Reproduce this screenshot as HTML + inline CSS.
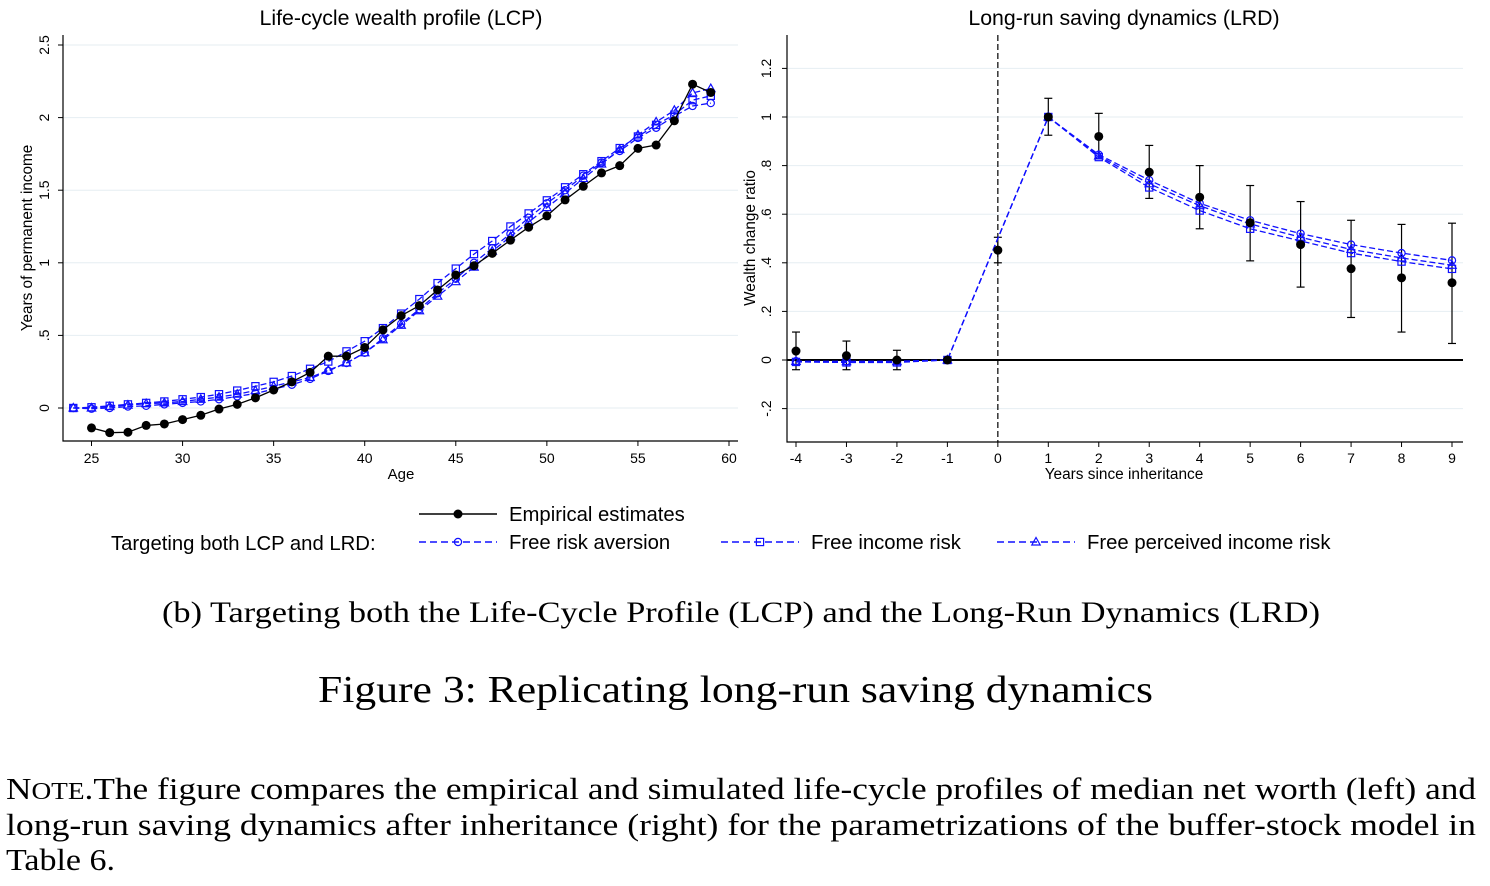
<!DOCTYPE html>
<html><head><meta charset="utf-8"><style>
body{margin:0;background:#fff;width:1490px;height:886px;overflow:hidden;position:relative;font-family:"Liberation Sans",sans-serif}
svg{position:absolute;left:0;top:0}
</style></head><body>
<svg id="chart" width="1490" height="886" xmlns="http://www.w3.org/2000/svg">
<g font-family="Liberation Serif, serif" font-size="31">
<text x="6" y="799" textLength="1470" lengthAdjust="spacingAndGlyphs"><tspan font-size="31">N</tspan><tspan font-size="24">OTE</tspan>.The figure compares the empirical and simulated life-cycle profiles of median net worth (left) and</text>
<text x="6" y="835" textLength="1470" lengthAdjust="spacingAndGlyphs">long-run saving dynamics after inheritance (right) for the parametrizations of the buffer-stock model in</text>
<text x="6" y="870" textLength="109" lengthAdjust="spacingAndGlyphs">Table 6.</text>
</g>
</svg>
<script>
// Left chart data
const ages=[25,26,27,28,29,30,31,32,33,34,35,36,37,38,39,40,41,42,43,44,45,46,47,48,49,50,51,52,53,54,55,56,57,58,59];
const lcpEmp=[-0.137,-0.17,-0.167,-0.12,-0.11,-0.08,-0.05,-0.007,0.025,0.07,0.124,0.18,0.245,0.357,0.357,0.417,0.538,0.636,0.705,0.813,0.916,0.98,1.065,1.156,1.245,1.323,1.433,1.527,1.619,1.669,1.788,1.811,1.978,2.23,2.173];
const agesModel=[24,25,26,27,28,29,30,31,32,33,34,35,36,37,38,39,40,41,42,43,44,45,46,47,48,49,50,51,52,53,54,55,56,57,58,59];
const lcpRisk=[0,-0.005,0,0.01,0.015,0.025,0.035,0.045,0.06,0.08,0.1,0.13,0.16,0.2,0.255,0.31,0.38,0.48,0.58,0.68,0.79,0.89,1.0,1.1,1.2,1.31,1.41,1.5,1.6,1.69,1.77,1.86,1.93,2.01,2.08,2.1];
const lcpIncome=[0,0.005,0.015,0.025,0.035,0.045,0.06,0.075,0.095,0.12,0.15,0.18,0.22,0.27,0.32,0.39,0.46,0.55,0.65,0.75,0.86,0.96,1.06,1.15,1.25,1.34,1.43,1.52,1.61,1.7,1.79,1.87,1.95,2.02,2.12,2.15];
const lcpPerc=[0,0,0.01,0.02,0.03,0.035,0.045,0.06,0.075,0.095,0.12,0.15,0.18,0.21,0.26,0.31,0.38,0.47,0.57,0.67,0.77,0.87,0.97,1.08,1.18,1.28,1.38,1.48,1.58,1.68,1.78,1.88,1.97,2.05,2.17,2.2];
const lTicksX=[25,30,35,40,45,50,55,60];
const lTicksY=[0,0.5,1,1.5,2,2.5];
const lTickLabY=["0",".5","1","1.5","2","2.5"];
// Right chart data
const years=[-4,-3,-2,-1,0,1,2,3,4,5,6,7,8,9];
const lrdEmp=[0.037,0.018,0.0,0.0,0.452,1.0,0.92,0.773,0.67,0.565,0.475,0.376,0.338,0.318];
const lrdLo=[-0.04,-0.04,-0.04,0,0.4,0.925,0.83,0.665,0.54,0.408,0.3,0.175,0.115,0.068];
const lrdHi=[0.115,0.078,0.04,0,0.505,1.077,1.015,0.883,0.8,0.718,0.652,0.575,0.558,0.563];
const lrdRisk=[-0.005,-0.005,-0.005,0,0.5,1,0.845,0.74,0.645,0.575,0.52,0.475,0.44,0.41];
const lrdIncome=[-0.008,-0.01,-0.01,0,0.5,1,0.835,0.71,0.615,0.54,0.49,0.44,0.405,0.375];
const lrdPerc=[-0.006,-0.007,-0.007,0,0.5,1,0.84,0.725,0.635,0.56,0.505,0.455,0.42,0.39];
const rTicksX=[-4,-3,-2,-1,0,1,2,3,4,5,6,7,8,9];
const rTicksY=[-0.2,0,0.2,0.4,0.6,0.8,1,1.2];
const rTickLabY=["-.2","0",".2",".4",".6",".8","1","1.2"];

const svg=document.getElementById('chart');
const NS='http://www.w3.org/2000/svg';
function mk(tag,attrs,parent){const e=document.createElementNS(NS,tag);for(const k in attrs)e.setAttribute(k,attrs[k]);(parent||svg).appendChild(e);return e;}
function txt(x,y,s,size,extra,name){const t=mk('text',Object.assign({x:x,y:y,'font-size':size,'font-family':'Liberation Sans, sans-serif',fill:'#000'},extra||{}));t.textContent=s;


return t;}
function marker(kind,x,y,g){let e;
 if(kind==='dot'){e=mk('circle',{cx:x,cy:y,r:4.5,fill:'#000'},g);}
 else if(kind==='circle'){e=mk('circle',{cx:x,cy:y,r:3.6,fill:'none',stroke:'#1010ff','stroke-width':1.2},g);}
 else if(kind==='square'){e=mk('rect',{x:x-3.6,y:y-3.6,width:7.2,height:7.2,fill:'none',stroke:'#1010ff','stroke-width':1.2},g);}
 else {e=mk('polygon',{points:`${x},${y-4.5} ${x-4.2},${y+3} ${x+4.2},${y+3}`,fill:'none',stroke:'#1010ff','stroke-width':1.2},g);}
 
 
}
function series(xs,ys,sx,sy,kind,dash,color,name,skip){
 const g=mk('g',{});
 
 
 const pts=xs.map((v,i)=>sx(v)+','+sy(ys[i])).join(' ');
 mk('polyline',{points:pts,fill:'none',stroke:color,'stroke-width':1.3,'stroke-dasharray':dash||''},g);
 xs.forEach((v,i)=>{if(skip&&skip(v))return;marker(kind,sx(v),sy(ys[i]),g);});
}
// ---- Left chart
const L={x0:63,x1:738,y0:35,y1:441};
const lx=v=>91.5+(v-25)*(729-91.5)/35;
const ly=v=>408-v*145.2;
lTicksY.forEach((v,i)=>{const g=mk('line',{x1:L.x0,x2:L.x1,y1:ly(v),y2:ly(v),stroke:'#e6eef2','stroke-width':1});
 
 mk('line',{x1:L.x0-5,x2:L.x0,y1:ly(v),y2:ly(v),stroke:'#000'});
 txt(49,ly(v),lTickLabY[i],14,{'text-anchor':'middle',transform:`rotate(-90 49 ${ly(v)})`},'left-y-tick-label');});
lTicksX.forEach(v=>{mk('line',{x1:lx(v),x2:lx(v),y1:L.y1,y2:L.y1+5,stroke:'#000'});txt(lx(v),463,String(v),14,{'text-anchor':'middle'},'left-x-tick-label');});
mk('polyline',{points:`${L.x0},${L.y0} ${L.x0},${L.y1} ${L.x1},${L.y1}`,fill:'none',stroke:'#000','stroke-width':1.2});
txt(401,479,'Age',15,{'text-anchor':'middle'},'left-x-axis-title');
txt(32,238,'Years of permanent income',15.3,{'text-anchor':'middle',transform:'rotate(-90 32 238)'},'left-y-axis-title');
txt(401,25,'Life-cycle wealth profile (LCP)',21.3,{'text-anchor':'middle'},'left-chart-title');
series(agesModel,lcpRisk,lx,ly,'circle','6,3','#1010ff','lcp-free-risk-aversion');
series(agesModel,lcpIncome,lx,ly,'square','6,3','#1010ff','lcp-free-income-risk');
series(agesModel,lcpPerc,lx,ly,'triangle','6,3','#1010ff','lcp-free-perceived-income-risk');
series(ages,lcpEmp,lx,ly,'dot','','#000','lcp-empirical');
// ---- Right chart
const R={x0:787,x1:1463,y0:35,y1:442};
const rx=v=>796+(v+4)*(1452-796)/13;
const ry=v=>360-v*243;
rTicksY.forEach((v,i)=>{const g=mk('line',{x1:R.x0,x2:R.x1,y1:ry(v),y2:ry(v),stroke:'#e6eef2','stroke-width':1});
 
 mk('line',{x1:R.x0-5,x2:R.x0,y1:ry(v),y2:ry(v),stroke:'#000'});
 txt(771,ry(v),rTickLabY[i],14,{'text-anchor':'middle',transform:`rotate(-90 771 ${ry(v)})`},'right-y-tick-label');});
rTicksX.forEach(v=>{mk('line',{x1:rx(v),x2:rx(v),y1:R.y1,y2:R.y1+5,stroke:'#000'});txt(rx(v),463,String(v),14,{'text-anchor':'middle'},'right-x-tick-label');});
mk('line',{x1:R.x0,x2:R.x1,y1:ry(0),y2:ry(0),stroke:'#000','stroke-width':2});
mk('line',{x1:rx(0),x2:rx(0),y1:R.y0,y2:R.y1,stroke:'#000','stroke-width':1.2,'stroke-dasharray':'6,3'});
mk('polyline',{points:`${R.x0},${R.y0} ${R.x0},${R.y1} ${R.x1},${R.y1}`,fill:'none',stroke:'#000','stroke-width':1.2});
txt(1124,479,'Years since inheritance',15.4,{'text-anchor':'middle'},'right-x-axis-title');
txt(755,238,'Wealth change ratio',15.3,{'text-anchor':'middle',transform:'rotate(-90 755 238)'},'right-y-axis-title');
txt(1124,25,'Long-run saving dynamics (LRD)',21.3,{'text-anchor':'middle'},'right-chart-title');
const eb=mk('g',{});


years.forEach((v,i)=>{if(lrdHi[i]===lrdLo[i])return;const x=rx(v);
 mk('line',{x1:x,x2:x,y1:ry(lrdLo[i]),y2:ry(lrdHi[i]),stroke:'#000','stroke-width':1.2},eb);
 mk('line',{x1:x-4,x2:x+4,y1:ry(lrdLo[i]),y2:ry(lrdLo[i]),stroke:'#000','stroke-width':1.2},eb);
 mk('line',{x1:x-4,x2:x+4,y1:ry(lrdHi[i]),y2:ry(lrdHi[i]),stroke:'#000','stroke-width':1.2},eb);});
const skip0=v=>v===0;
series(years,lrdRisk,rx,ry,'circle','6,3','#1010ff','lrd-free-risk-aversion',skip0);
series(years,lrdIncome,rx,ry,'square','6,3','#1010ff','lrd-free-income-risk',skip0);
series(years,lrdPerc,rx,ry,'triangle','6,3','#1010ff','lrd-free-perceived-income-risk',skip0);
{const g=mk('g',{});
 years.forEach((v,i)=>marker('dot',rx(v),ry(lrdEmp[i]),g));}
// ---- Legend
function legKey(x,y,kind,dash,color,label,name){const g=mk('g',{});
 
 
 mk('line',{x1:x,x2:x+78,y1:y,y2:y,stroke:color,'stroke-width':1.5,'stroke-dasharray':dash},g);
 marker(kind,x+39,y,g);
 const t=mk('text',{x:x+90,y:y+7,'font-size':20.3,'font-family':'Liberation Sans, sans-serif'},g);t.textContent=label;}
legKey(419,514,'dot','','#000','Empirical estimates','legend-empirical');
txt(111,550,'Targeting both LCP and LRD:',20.3,{},'legend-group-label');
legKey(419,542,'circle','7,4','#1010ff','Free risk aversion','legend-free-risk-aversion');
legKey(721,542,'square','7,4','#1010ff','Free income risk','legend-free-income-risk');
legKey(997,542,'triangle','7,4','#1010ff','Free perceived income risk','legend-free-perceived-income-risk');
txt(162,622,'(b) Targeting both the Life-Cycle Profile (LCP) and the Long-Run Dynamics (LRD)',30,{'font-family':'Liberation Serif, serif',textLength:1158,lengthAdjust:'spacingAndGlyphs'},'subfigure-caption');
txt(318,702,'Figure 3: Replicating long-run saving dynamics',38,{'font-family':'Liberation Serif, serif',textLength:835,lengthAdjust:'spacingAndGlyphs'},'figure-title');
</script>
</body></html>
